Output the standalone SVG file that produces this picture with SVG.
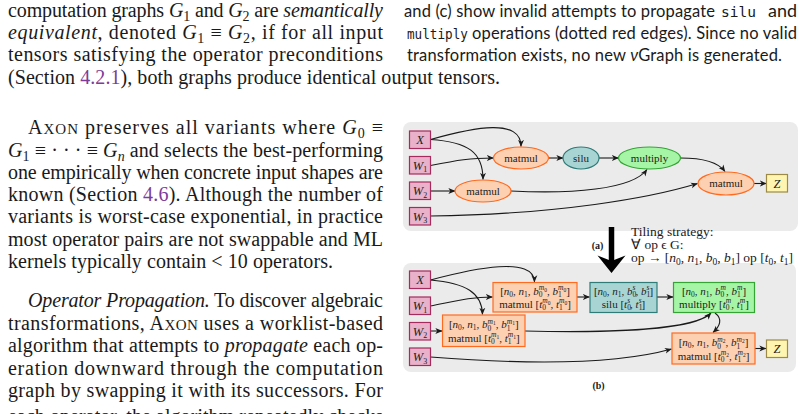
<svg xmlns="http://www.w3.org/2000/svg" width="803" height="414" viewBox="0 0 803 414">
<defs>
<style>
.body{font-family:"Liberation Serif","Times New Roman",serif;font-size:20px;fill:#1a1a1a}
.cap{font-family:"Lato","Liberation Sans",sans-serif;font-size:16.5px;fill:#1a1a1a}
.mono{font-family:"DejaVu Sans Mono","Liberation Mono",monospace;font-size:14.5px;fill:#1a1a1a}
.it{font-style:italic}
.sub{font-size:14px}
.sc{font-size:15px}
.link{fill:#7d3c98}
.panel{fill:#ebebeb}
.inp{fill:#e9b2ca;stroke:#a52a5e;stroke-width:1.2}
.org{fill:#fdd0b1;stroke:#ff6a1f;stroke-width:1.2}
.teal{fill:#a8d5d3;stroke:#2f7b78;stroke-width:1.2}
.grn{fill:#a6f5a6;stroke:#34a534;stroke-width:1.2}
.out{fill:#fff5b1;stroke:#9c8a45;stroke-width:1.2}
.lbl{font-family:"Liberation Serif",serif;font-size:11px;fill:#222;text-anchor:middle}
.vl{font-family:"Liberation Serif",serif;font-size:12.5px;font-style:italic;fill:#222;text-anchor:middle}
.vs{font-size:8px;font-style:normal}
.s{font-size:7.5px}
.ss{font-size:5.5px}
.edge{fill:none;stroke:#1a1a1a;stroke-width:1.1;marker-end:url(#ah)}
.note{font-family:"Liberation Serif",serif;font-size:13.5px;fill:#1a1a1a}
.ns{font-size:9.5px}
.tag{font-family:"Liberation Serif",serif;font-size:10px;font-weight:bold;fill:#1a1a1a;text-anchor:middle}
</style>
<marker id="ah" viewBox="0 0 10 10" refX="9.5" refY="5" markerWidth="7" markerHeight="7" markerUnits="userSpaceOnUse" orient="auto">
<path d="M0,0.8 L10,5 L0,9.2 L2.8,5 Z" fill="#1a1a1a"/>
</marker>
</defs>

<rect width="803" height="414" fill="#ffffff"/>

<!-- left column text -->
<g id="left-text" class="body">
<text x="8" y="16.5" textLength="375" lengthAdjust="spacing">computation graphs <tspan class="it">G</tspan><tspan class="sub" dy="4">1</tspan><tspan dy="-4"> and </tspan><tspan class="it">G</tspan><tspan class="sub" dy="4">2</tspan><tspan dy="-4"> are </tspan><tspan class="it">semantically</tspan></text>
<text x="8" y="38.5" textLength="375" lengthAdjust="spacing"><tspan class="it">equivalent</tspan>, denoted <tspan class="it">G</tspan><tspan class="sub" dy="4">1</tspan><tspan dy="-4">  ≡  </tspan><tspan class="it">G</tspan><tspan class="sub" dy="4">2</tspan><tspan dy="-4">, if for all input</tspan></text>
<text x="8" y="61" textLength="375" lengthAdjust="spacing">tensors satisfying the operator preconditions</text>
<text x="8" y="83.5" textLength="492" lengthAdjust="spacing">(Section <tspan class="link">4.2.1</tspan>), both graphs produce identical output tensors.</text>

<text x="28" y="134" textLength="355" lengthAdjust="spacing">A<tspan class="sc">XON</tspan> preserves all variants where <tspan class="it">G</tspan><tspan class="sub" dy="4">0</tspan><tspan dy="-4">  ≡</tspan></text>
<text x="8" y="156.5" textLength="375" lengthAdjust="spacing"><tspan class="it">G</tspan><tspan class="sub" dy="4">1</tspan><tspan dy="-4"> ≡ · · · ≡ </tspan><tspan class="it">G</tspan><tspan class="sub it" dy="4">n</tspan><tspan dy="-4"> and selects the best-performing</tspan></text>
<text x="8" y="178.5" textLength="375" lengthAdjust="spacing">one empirically when concrete input shapes are</text>
<text x="8" y="201" textLength="375" lengthAdjust="spacing">known (Section <tspan class="link">4.6</tspan>). Although the number of</text>
<text x="8" y="223" textLength="375" lengthAdjust="spacing">variants is worst-case exponential, in practice</text>
<text x="8" y="245.5" textLength="375" lengthAdjust="spacing">most operator pairs are not swappable and ML</text>
<text x="8" y="267.5" textLength="325" lengthAdjust="spacing">kernels typically contain &lt; 10 operators.</text>

<text x="28" y="307" textLength="355" lengthAdjust="spacing"><tspan class="it">Operator Propagation.</tspan> To discover algebraic</text>
<text x="8" y="329.5" textLength="375" lengthAdjust="spacing">transformations, A<tspan class="sc">XON</tspan> uses a worklist-based</text>
<text x="8" y="352" textLength="375" lengthAdjust="spacing">algorithm that attempts to <tspan class="it">propagate</tspan> each op-</text>
<text x="8" y="374.5" textLength="375" lengthAdjust="spacing">eration downward through the computation</text>
<text x="8" y="397" textLength="375" lengthAdjust="spacing">graph by swapping it with its successors. For</text>
<text x="8" y="423" textLength="375" lengthAdjust="spacing">each operator, the algorithm repeatedly checks</text>
</g>

<!-- right column caption text -->
<g id="caption-text" class="cap">
<text x="404" y="16.5" textLength="311" lengthAdjust="spacing">and (c) show invalid attempts to propagate</text>
<text class="mono" x="721" y="16.5" textLength="35" lengthAdjust="spacingAndGlyphs">silu</text>
<text x="768" y="16.5" textLength="29" lengthAdjust="spacingAndGlyphs">and</text>
<text class="mono" x="407" y="38.5" textLength="61" lengthAdjust="spacingAndGlyphs">multiply</text>
<text x="472" y="38.5" textLength="325" lengthAdjust="spacing">operations (dotted red edges). Since no valid</text>
<text x="407" y="61" textLength="375" lengthAdjust="spacing">transformation exists, no new <tspan class="it">ν</tspan>Graph is generated.</text>
</g>

<!-- panels -->
<rect id="panel-a" class="panel" x="403" y="122" width="395" height="109" rx="8"/>
<rect id="panel-b" class="panel" x="403" y="263" width="393" height="109" rx="8"/>

<!-- connectors -->
<g id="connectors">
<path class="edge" d="M430.5,139.5 C475,127 521,118 521,146.5"/>
<path class="edge" d="M430.5,139.5 C468,142 483,152 483,179.5"/>
<path class="edge" d="M430.5,165.5 C458,160 470,158 493.5,158"/>
<path class="edge" d="M430.5,191 L455,191"/>
<path class="edge" d="M548.5,158 L563,158"/>
<path class="edge" d="M599,158 L618.5,158"/>
<path class="edge" d="M511,191 C570,194 632,190 647,169.5"/>
<path class="edge" d="M430.5,216 C560,214 650,198 697.5,183.5"/>
<path class="edge" d="M680.5,158 C700,158 718,162 725,171.5"/>
<path class="edge" d="M754,183.5 L766.5,183.5"/>

<path class="edge" d="M430.5,280 C475,268 534,256 534.5,282"/>
<path class="edge" d="M430.5,280 C466,283 482,293 482.5,314.5"/>
<path class="edge" d="M430.5,306 C456,301 470,297 492.5,297"/>
<path class="edge" d="M430.5,331 L442,331"/>
<path class="edge" d="M577,297 L589.5,297"/>
<path class="edge" d="M657,297 L673,297"/>
<path class="edge" d="M525,331 C610,333 695,330 711,313"/>
<path class="edge" d="M715,313 C723,319 720,326 713,332.5"/>
<path class="edge" d="M430.5,357 C545,366 625,362 671.5,349"/>
<path class="edge" d="M755,348.5 L766,348.5"/>

<g id="big-arrow">
<line x1="611.5" y1="227" x2="611.5" y2="262" stroke="#000" stroke-width="5.5"/>
<path d="M597.5,255.5 L611.5,273 L625.5,255.5 L611.5,261 Z" fill="#000"/>
</g>
</g>

<!-- panel (a) nodes -->
<g id="a-X"><rect class="inp" x="409.5" y="131" width="21" height="17.5"/><text class="vl" x="420" y="144">X</text></g>
<g id="a-W1"><rect class="inp" x="409.5" y="156.5" width="21" height="17.5"/><text class="vl" x="420" y="169.5">W<tspan class="vs" dy="2.5">1</tspan></text></g>
<g id="a-W2"><rect class="inp" x="409.5" y="182" width="21" height="17.5"/><text class="vl" x="420" y="195">W<tspan class="vs" dy="2.5">2</tspan></text></g>
<g id="a-W3"><rect class="inp" x="409.5" y="207.5" width="21" height="17.5"/><text class="vl" x="420" y="220.5">W<tspan class="vs" dy="2.5">3</tspan></text></g>
<g id="a-matmul1"><ellipse class="org" cx="521" cy="158" rx="27.5" ry="11"/><text class="lbl" x="521" y="161.5">matmul</text></g>
<g id="a-silu"><ellipse class="teal" cx="581" cy="158" rx="18" ry="11"/><text class="lbl" x="581" y="161.5">silu</text></g>
<g id="a-multiply"><ellipse class="grn" cx="649.5" cy="158" rx="31" ry="11"/><text class="lbl" x="649.5" y="161.5">multiply</text></g>
<g id="a-matmul2"><ellipse class="org" cx="483" cy="191" rx="28" ry="11"/><text class="lbl" x="483" y="194.5">matmul</text></g>
<g id="a-matmul3"><ellipse class="org" cx="726" cy="183.5" rx="28" ry="11.5"/><text class="lbl" x="726" y="187">matmul</text></g>
<g id="a-Z"><rect class="out" x="766.5" y="174.5" width="21" height="17.5"/><text class="vl" x="777" y="187.5">Z</text></g>

<text class="tag" x="597.5" y="249">(a)</text>

<g id="tiling-note" class="note">
<text x="631" y="236">Tiling strategy:</text>
<text x="631" y="249">∀ op ϵ G:</text>
<text x="631" y="262">op → [<tspan class="it">n</tspan><tspan class="ns" dy="2.5">0</tspan><tspan dy="-2.5">, </tspan><tspan class="it">n</tspan><tspan class="ns" dy="2.5">1</tspan><tspan dy="-2.5">, </tspan><tspan class="it">b</tspan><tspan class="ns" dy="2.5">0</tspan><tspan dy="-2.5">, </tspan><tspan class="it">b</tspan><tspan class="ns" dy="2.5">1</tspan><tspan dy="-2.5">] op [</tspan><tspan class="it">t</tspan><tspan class="ns" dy="2.5">0</tspan><tspan dy="-2.5">, </tspan><tspan class="it">t</tspan><tspan class="ns" dy="2.5">1</tspan><tspan dy="-2.5">]</tspan></text>
</g>

<!-- panel (b) nodes -->
<g id="b-X"><rect class="inp" x="409.5" y="271" width="21" height="17.5"/><text class="vl" x="420" y="284">X</text></g>
<g id="b-W1"><rect class="inp" x="409.5" y="297" width="21" height="17.5"/><text class="vl" x="420" y="310">W<tspan class="vs" dy="2.5">1</tspan></text></g>
<g id="b-W2"><rect class="inp" x="409.5" y="322.5" width="21" height="17.5"/><text class="vl" x="420" y="335.5">W<tspan class="vs" dy="2.5">2</tspan></text></g>
<g id="b-W3"><rect class="inp" x="409.5" y="348" width="21" height="17.5"/><text class="vl" x="420" y="361">W<tspan class="vs" dy="2.5">3</tspan></text></g>

<g id="b-matmul0"><rect class="org" x="493" y="282.5" width="84" height="29.5"/>
<text class="lbl" x="535" y="294.5">[<tspan class="it">n</tspan><tspan class="s" dy="2">0</tspan><tspan dy="-2">, </tspan><tspan class="it">n</tspan><tspan class="s" dy="2">1</tspan><tspan dy="-2">, </tspan><tspan class="it">b</tspan><tspan class="s" dy="2.5">0</tspan><tspan class="s it" dx="-3.75" dy="-7">m</tspan><tspan class="ss" dy="1.5">0</tspan><tspan dy="3">, </tspan><tspan class="it">b</tspan><tspan class="s" dy="2.5">1</tspan><tspan class="s it" dx="-3.75" dy="-7">m</tspan><tspan class="ss" dy="1.5">0</tspan><tspan dy="3">]</tspan></text>
<text class="lbl" x="535" y="307.5">matmul [<tspan class="it">t</tspan><tspan class="s" dy="2.5">0</tspan><tspan class="s it" dx="-3.75" dy="-7">m</tspan><tspan class="ss" dy="1.5">0</tspan><tspan dy="3">, </tspan><tspan class="it">t</tspan><tspan class="s" dy="2.5">1</tspan><tspan class="s it" dx="-3.75" dy="-7">m</tspan><tspan class="ss" dy="1.5">0</tspan><tspan dy="3">]</tspan></text>
</g>

<g id="b-silu"><rect class="teal" x="590" y="282.5" width="67" height="30"/>
<text class="lbl" x="623.5" y="294.5">[<tspan class="it">n</tspan><tspan class="s" dy="2">0</tspan><tspan dy="-2">, </tspan><tspan class="it">n</tspan><tspan class="s" dy="2">1</tspan><tspan dy="-2">, </tspan><tspan class="it">b</tspan><tspan class="s" dy="2.5">0</tspan><tspan class="s it" dx="-3.75" dy="-7">s</tspan><tspan dy="4.5">, </tspan><tspan class="it">b</tspan><tspan class="s" dy="2.5">1</tspan><tspan class="s it" dx="-3.75" dy="-7">s</tspan><tspan dy="4.5">]</tspan></text>
<text class="lbl" x="623.5" y="307.5">silu [<tspan class="it">t</tspan><tspan class="s" dy="2.5">0</tspan><tspan class="s it" dx="-3.75" dy="-7">s</tspan><tspan dy="4.5">, </tspan><tspan class="it">t</tspan><tspan class="s" dy="2.5">1</tspan><tspan class="s it" dx="-3.75" dy="-7">s</tspan><tspan dy="4.5">]</tspan></text>
</g>

<g id="b-multiply"><rect class="grn" x="673.5" y="282.5" width="81" height="30"/>
<text class="lbl" x="714" y="294.5">[<tspan class="it">n</tspan><tspan class="s" dy="2">0</tspan><tspan dy="-2">, </tspan><tspan class="it">n</tspan><tspan class="s" dy="2">1</tspan><tspan dy="-2">, </tspan><tspan class="it">b</tspan><tspan class="s" dy="2.5">0</tspan><tspan class="s it" dx="-3.75" dy="-7">m</tspan><tspan dy="4.5">, </tspan><tspan class="it">b</tspan><tspan class="s" dy="2.5">1</tspan><tspan class="s it" dx="-3.75" dy="-7">m</tspan><tspan dy="4.5">]</tspan></text>
<text class="lbl" x="714" y="307.5">multiply [<tspan class="it">t</tspan><tspan class="s" dy="2.5">0</tspan><tspan class="s it" dx="-3.75" dy="-7">m</tspan><tspan dy="4.5">, </tspan><tspan class="it">t</tspan><tspan class="s" dy="2.5">1</tspan><tspan class="s it" dx="-3.75" dy="-7">m</tspan><tspan dy="4.5">]</tspan></text>
</g>

<g id="b-matmul1"><rect class="org" x="442.5" y="315" width="82.5" height="31.5"/>
<text class="lbl" x="483.75" y="328">[<tspan class="it">n</tspan><tspan class="s" dy="2">0</tspan><tspan dy="-2">, </tspan><tspan class="it">n</tspan><tspan class="s" dy="2">1</tspan><tspan dy="-2">, </tspan><tspan class="it">b</tspan><tspan class="s" dy="2.5">0</tspan><tspan class="s it" dx="-3.75" dy="-7">m</tspan><tspan class="ss" dy="1.5">1</tspan><tspan dy="3">, </tspan><tspan class="it">b</tspan><tspan class="s" dy="2.5">1</tspan><tspan class="s it" dx="-3.75" dy="-7">m</tspan><tspan class="ss" dy="1.5">1</tspan><tspan dy="3">]</tspan></text>
<text class="lbl" x="483.75" y="341.5">matmul [<tspan class="it">t</tspan><tspan class="s" dy="2.5">0</tspan><tspan class="s it" dx="-3.75" dy="-7">m</tspan><tspan class="ss" dy="1.5">1</tspan><tspan dy="3">, </tspan><tspan class="it">t</tspan><tspan class="s" dy="2.5">1</tspan><tspan class="s it" dx="-3.75" dy="-7">m</tspan><tspan class="ss" dy="1.5">1</tspan><tspan dy="3">]</tspan></text>
</g>

<g id="b-matmul2"><rect class="org" x="672" y="333" width="83" height="31"/>
<text class="lbl" x="713.5" y="346">[<tspan class="it">n</tspan><tspan class="s" dy="2">0</tspan><tspan dy="-2">, </tspan><tspan class="it">n</tspan><tspan class="s" dy="2">1</tspan><tspan dy="-2">, </tspan><tspan class="it">b</tspan><tspan class="s" dy="2.5">0</tspan><tspan class="s it" dx="-3.75" dy="-7">m</tspan><tspan class="ss" dy="1.5">2</tspan><tspan dy="3">, </tspan><tspan class="it">b</tspan><tspan class="s" dy="2.5">1</tspan><tspan class="s it" dx="-3.75" dy="-7">m</tspan><tspan class="ss" dy="1.5">2</tspan><tspan dy="3">]</tspan></text>
<text class="lbl" x="713.5" y="359.5">matmul [<tspan class="it">t</tspan><tspan class="s" dy="2.5">0</tspan><tspan class="s it" dx="-3.75" dy="-7">m</tspan><tspan class="ss" dy="1.5">2</tspan><tspan dy="3">, </tspan><tspan class="it">t</tspan><tspan class="s" dy="2.5">1</tspan><tspan class="s it" dx="-3.75" dy="-7">m</tspan><tspan class="ss" dy="1.5">2</tspan><tspan dy="3">]</tspan></text>
</g>

<g id="b-Z"><rect class="out" x="766.5" y="340" width="21" height="17.5"/><text class="vl" x="777" y="353">Z</text></g>

<text class="tag" x="598.5" y="389">(b)</text>
</svg>
